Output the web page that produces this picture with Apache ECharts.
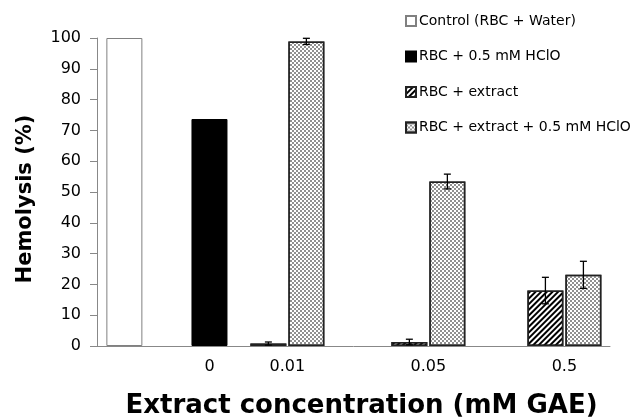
<!DOCTYPE html>
<html>
<head>
<meta charset="utf-8">
<script src="https://cdn.jsdelivr.net/npm/echarts@6/dist/echarts.min.js"></script>
<style>
html,body{margin:0;padding:0;background:#fff;}
#chart{width:634px;height:417px;}
</style>
</head>
<body>
<div id="chart"></div>
<script>
// ---- data ----
var categories = ['0', '0.01', '0.05', '0.5'];
var seriesNames = ['Control (RBC + Water)', 'RBC + 0.5 mM HClO', 'RBC + extract', 'RBC + extract + 0.5 mM HClO'];
var controlValue = 100;
var hcloValue = 73.7;
var extractValues = [0.8, 1.3, 18.0];          // at 0.01, 0.05, 0.5
var extractErrors = [0.5, 0.9, 4.3];
var extractHcloValues = [98.9, 53.4, 23.1];    // at 0.01, 0.05, 0.5
var extractHcloErrors = [1.0, 2.4, 4.4];
var yTicks = [0, 10, 20, 30, 40, 50, 60, 70, 80, 90, 100];

// ---- layout (axis units along x) ----
var controlPos = 0.72;
var groupPos = [2.96, 5.01, 8.72, 12.3];   // label positions for categories
var pairOffset = 0.5;
var xMax = 13.5;

var font = '"DejaVu Sans", sans-serif';

var extractGroups = groupPos.slice(1);
var extractData = extractValues.map(function (v, i) { return [extractGroups[i] - pairOffset, v]; });
var extractHcloData = extractHcloValues.map(function (v, i) { return [extractGroups[i] + pairOffset, v]; });
var errData = [];
extractValues.forEach(function (v, i) { errData.push([extractGroups[i] - pairOffset, v, extractErrors[i]]); });
extractHcloValues.forEach(function (v, i) { errData.push([extractGroups[i] + pairOffset, v, extractHcloErrors[i]]); });

var hatch = { symbol: 'rect', symbolSize: 1, color: '#000', dashArrayX: [1, 0], dashArrayY: [1.5, 2], rotation: -Math.PI / 4 };
var checker = { symbol: 'rect', symbolSize: 1, color: '#909090', dashArrayX: [[2, 2], [0, 2, 2, 0]], dashArrayY: [2, 0], rotation: 0 };

var chart = echarts.init(document.getElementById('chart'), null, { renderer: 'canvas' });
chart.setOption({
  animation: false,
  backgroundColor: '#fff',
  textStyle: { fontFamily: font },
  grid: { left: 97, right: 24, top: 38, bottom: 71, containLabel: false, outerBoundsMode: 'none' },
  legend: {
    orient: 'vertical',
    left: 405,
    top: 14,
    padding: 0,
    itemWidth: 10,
    itemHeight: 10,
    itemGap: 21.5,
    icon: 'rect',
    textStyle: { fontFamily: font, fontSize: 14, color: '#000', padding: [0, 0, 0, -2] },
    data: seriesNames
  },
  xAxis: {
    type: 'value',
    min: 0,
    max: xMax,
    splitLine: { show: false },
    axisLine: { show: true, lineStyle: { color: '#888', width: 1 } },
    axisTick: { show: false },
    axisLabel: {
      customValues: groupPos,
      formatter: function (v) {
        var i = groupPos.indexOf(v);
        return i >= 0 ? categories[i] : '';
      },
      fontFamily: font, fontSize: 16, color: '#000', margin: 13
    },
    name: 'Extract concentration (mM GAE)',
    nameLocation: 'middle',
    nameGap: 47,
    nameTextStyle: { fontFamily: font, fontSize: 26, fontWeight: 'bold', color: '#000', padding: [0, 0, 0, 16] }
  },
  yAxis: {
    type: 'value',
    min: 0,
    max: 100,
    interval: 10,
    splitLine: { show: false },
    axisLine: { show: true, lineStyle: { color: '#888', width: 1 } },
    axisTick: { show: true, inside: false, length: 7, lineStyle: { color: '#888' } },
    axisLabel: { fontFamily: font, fontSize: 16, color: '#000', margin: 16,
      formatter: function (v) { return yTicks.indexOf(v) >= 0 ? String(v) : ''; } },
    name: 'Hemolysis (%)',
    nameLocation: 'middle',
    nameRotate: 90,
    nameGap: 61,
    nameTextStyle: { fontFamily: font, fontSize: 21, fontWeight: 'bold', color: '#000', padding: [0, 14, 0, 0] }
  },
  series: [
    {
      name: seriesNames[0], type: 'bar', barWidth: 36, barGap: '-100%',
      itemStyle: { color: '#fff', borderColor: '#808080', borderWidth: 1 },
      data: [[controlPos, controlValue]]
    },
    {
      name: seriesNames[1], type: 'bar', barWidth: 36, barGap: '-100%',
      itemStyle: { color: '#000', borderColor: '#000', borderWidth: 1 },
      data: [[groupPos[0], hcloValue]]
    },
    {
      name: seriesNames[2], type: 'bar', barWidth: 36, barGap: '-100%',
      itemStyle: { color: '#fff', borderColor: '#222', borderWidth: 1.5, decal: hatch },
      data: extractData
    },
    {
      name: seriesNames[3], type: 'bar', barWidth: 36, barGap: '-100%',
      itemStyle: { color: '#fff', borderColor: '#222', borderWidth: 1.5, decal: checker },
      data: extractHcloData
    },
    {
      type: 'custom',
      name: 'err',
      z: 10,
      data: errData,
      encode: { x: 0, y: 1 },
      renderItem: function (params, api) {
        var x = api.value(0), y = api.value(1), e = api.value(2);
        var top = api.coord([x, y + e]);
        var bot = api.coord([x, Math.max(0, y - e)]);
        var hw = 3.5;
        var st = { stroke: '#000', lineWidth: 1.3 };
        return {
          type: 'group',
          children: [
            { type: 'line', shape: { x1: top[0], y1: top[1], x2: bot[0], y2: bot[1] }, style: st },
            { type: 'line', shape: { x1: top[0] - hw, y1: top[1], x2: top[0] + hw, y2: top[1] }, style: st },
            { type: 'line', shape: { x1: bot[0] - hw, y1: bot[1], x2: bot[0] + hw, y2: bot[1] }, style: st }
          ]
        };
      }
    }
  ]
});
</script>
</body>
</html>
